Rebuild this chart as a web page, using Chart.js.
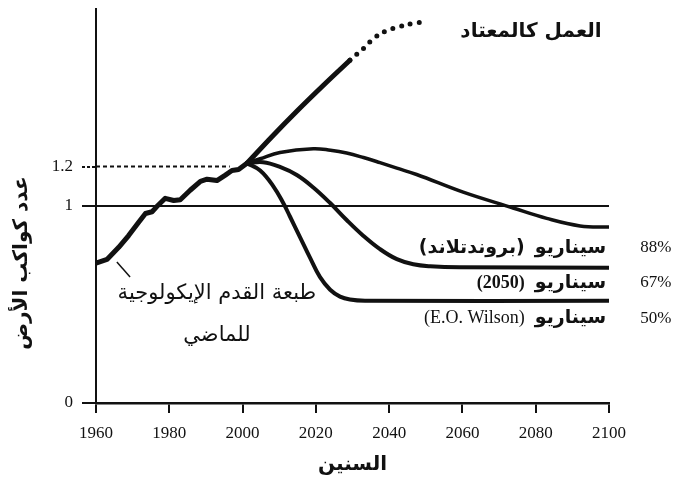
<!DOCTYPE html>
<html>
<head>
<meta charset="utf-8">
<script src="https://cdn.jsdelivr.net/npm/chart.js@4"></script>
<style>
  html, body { margin: 0; padding: 0; background: #fff; }
  #wrap { width: 675px; height: 483px; }
</style>
</head>
<body>
<div id="wrap"><canvas id="footprint"></canvas></div>
<script>
// --- data ---
const xTicks = [1960, 1980, 2000, 2020, 2040, 2060, 2080, 2100];
const yTicks = [0, 1, 1.2];
const yTickLabels = ['0', '1', '1.2'];

const histYears  = [1960, 1963, 1966.2, 1968.9, 1971.7, 1973.5, 1975.3, 1976.6, 1978.9, 1981.2, 1983, 1985.7, 1988.5, 1990.3, 1993, 1995.3, 1997.1, 1998.9, 2001.2];
const histValues = [0.71, 0.729, 0.79, 0.85, 0.919, 0.962, 0.971, 0.997, 1.039, 1.028, 1.032, 1.08, 1.125, 1.136, 1.129, 1.157, 1.18, 1.185, 1.217];

const bauYears  = [2001.2, 2008, 2015, 2022, 2029.3];
const bauValues = [1.217, 1.352, 1.485, 1.612, 1.74];
const bauDotYears  = [2029.3, 2033, 2036, 2039, 2043, 2047, 2050];
const bauDotValues = [1.74, 1.8, 1.854, 1.887, 1.912, 1.928, 1.937];

const s88Years  = [2001.2, 2004.8, 2010.2, 2019.3, 2024, 2028.4, 2033, 2037.5, 2042.1, 2047.5, 2060.2, 2073.8, 2083, 2092.1, 2100];
const s88Values = [1.217, 1.24, 1.272, 1.291, 1.283, 1.269, 1.246, 1.22, 1.192, 1.16, 1.07, 0.99, 0.937, 0.899, 0.893];

const s67Years  = [2001.2, 2005.6, 2010.2, 2014.8, 2019.3, 2023.9, 2028.4, 2033, 2037.5, 2042.1, 2046.6, 2051.2, 2059.3, 2100];
const s67Values = [1.217, 1.222, 1.198, 1.157, 1.094, 1.015, 0.929, 0.848, 0.781, 0.73, 0.704, 0.694, 0.689, 0.687];

const s50Years  = [2001.2, 2004.8, 2008.4, 2011.1, 2012.9, 2015.7, 2018.4, 2021.1, 2023.9, 2026.6, 2029.3, 2033.4, 2100];
const s50Values = [1.217, 1.18, 1.1, 1.015, 0.948, 0.841, 0.738, 0.64, 0.575, 0.54, 0.525, 0.519, 0.519];

const oneYears = [1960, 2100];
const oneValues = [1, 1];
const refYears = [1960, 1996.5];
const refValues = [1.2, 1.2];

const scenarioNames = ['سيناريو', 'سيناريو', 'سيناريو'];
const scenarioTags = ['(بروندتلاند)', '(2050)', '(E.O. Wilson)'];
const scenarioShares = ['88%', '67%', '50%'];

const INK = '#111';
const AR = "'DejaVu Sans', sans-serif";
const SERIF = "'Liberation Serif', 'DejaVu Serif', serif";

const pts = (xs, ys) => xs.map((x, i) => ({ x: x, y: ys[i] }));

function line(xs, ys, width, extra) {
  return Object.assign({
    data: pts(xs, ys),
    borderColor: INK,
    borderWidth: width,
    pointRadius: 0,
    fill: false,
    borderCapStyle: 'round',
    borderJoinStyle: 'round'
  }, extra || {});
}

// texts drawn on top of the plot
const notes = {
  id: 'notes',
  afterDatasetsDraw(chart) {
    const { ctx, scales: { x, y }, chartArea } = chart;
    ctx.save();
    ctx.fillStyle = INK;
    ctx.strokeStyle = INK;
    ctx.textBaseline = 'middle';

    // y axis title
    ctx.save();
    ctx.translate(chartArea.left - 74, y.getPixelForValue(0.71));
    ctx.rotate(-Math.PI / 2);
    ctx.direction = 'rtl';
    ctx.textAlign = 'center';
    ctx.font = 'bold 20px ' + AR;
    ctx.fillText('عدد كواكب الأرض', 0, 0);
    ctx.restore();

    // business as usual
    ctx.direction = 'rtl';
    ctx.textAlign = 'center';
    ctx.font = 'bold 20px ' + AR;
    ctx.fillText('العمل كالمعتاد', x.getPixelForValue(2078.7), y.getPixelForValue(1.883));

    // past footprint
    ctx.font = '21px ' + AR;
    ctx.fillText('طبعة القدم الإيكولوجية', x.getPixelForValue(1993), y.getPixelForValue(0.558));
    ctx.fillText('للماضي', x.getPixelForValue(1993), y.getPixelForValue(0.34));
    ctx.lineWidth = 1.5;
    ctx.beginPath();
    ctx.moveTo(x.getPixelForValue(1965.7), y.getPixelForValue(0.716));
    ctx.lineTo(x.getPixelForValue(1969.3), y.getPixelForValue(0.64));
    ctx.stroke();

    // scenario labels
    const rows = [0.787, 0.609, 0.431];
    const right = x.getPixelForValue(2099.2);
    rows.forEach((v, i) => {
      const py = y.getPixelForValue(v);
      ctx.direction = 'rtl';
      ctx.textAlign = 'right';
      ctx.font = 'bold 19px ' + AR;
      ctx.fillText(scenarioNames[i], right, py);
      const w = ctx.measureText(scenarioNames[i]).width;
      if (i === 0) ctx.font = 'bold 19px ' + AR;
      else if (i === 1) ctx.font = 'bold 18px ' + SERIF;
      else ctx.font = '18px ' + SERIF;
      ctx.direction = 'ltr';
      ctx.fillText(scenarioTags[i], right - w - 10, py);

      ctx.textAlign = 'left';
      ctx.font = '17px ' + SERIF;
      ctx.fillText(scenarioShares[i], x.getPixelForValue(2108.5), py);
    });
    ctx.restore();
  }
};

const smooth = { tension: 0.4 };

new Chart(document.getElementById('footprint'), {
  type: 'line',
  data: {
    datasets: [
      line(oneYears, oneValues, 2),
      line(refYears, refValues, 2, { borderDash: [4, 3], borderCapStyle: 'butt' }),
      line(histYears, histValues, 5),
      line(bauYears, bauValues, 5, smooth),
      line(bauDotYears, bauDotValues, 5, { borderDash: [0, 9], tension: 0.4 }),
      line(s88Years, s88Values, 3.5, smooth),
      line(s67Years, s67Values, 4, smooth),
      line(s50Years, s50Values, 4, smooth)
    ]
  },
  options: {
    responsive: true,
    maintainAspectRatio: false,
    animation: false,
    layout: { padding: { top: 9, right: 66, left: 0, bottom: 0 } },
    plugins: {
      legend: { display: false },
      tooltip: { enabled: false }
    },
    scales: {
      x: {
        type: 'linear',
        min: 1960,
        max: 2100,
        afterBuildTicks: s => { s.ticks = xTicks.map(v => ({ value: v })); },
        afterFit: s => { s.height = 80; },
        border: { color: INK, width: 2.5 },
        grid: { drawOnChartArea: false, drawTicks: true, tickLength: 10, color: INK, lineWidth: 2 },
        ticks: {
          color: INK,
          padding: 10,
          font: { family: SERIF, size: 17 },
          maxRotation: 0,
          callback: v => String(v)
        },
        title: {
          display: true,
          text: 'السنين',
          color: INK,
          font: { family: AR, size: 20, weight: 'bold' },
          padding: { top: 0, bottom: 6 }
        }
      },
      y: {
        type: 'linear',
        min: 0,
        max: 2,
        afterBuildTicks: s => { s.ticks = yTicks.map(v => ({ value: v })); },
        afterFit: s => { s.width = 96; s.paddingTop = 0; s.paddingBottom = 0; },
        border: { color: INK, width: 2 },
        grid: {
          drawOnChartArea: false,
          drawTicks: true,
          tickLength: 14,
          color: INK,
          lineWidth: 2,
          tickBorderDash: ctx => (ctx.tick && ctx.tick.value === 1.2 ? [3, 2] : [])
        },
        ticks: {
          color: INK,
          padding: 9,
          font: { family: SERIF, size: 17 },
          callback: (v) => yTickLabels[yTicks.indexOf(v)]
        }
      }
    }
  },
  plugins: [notes]
});
</script>
</body>
</html>
